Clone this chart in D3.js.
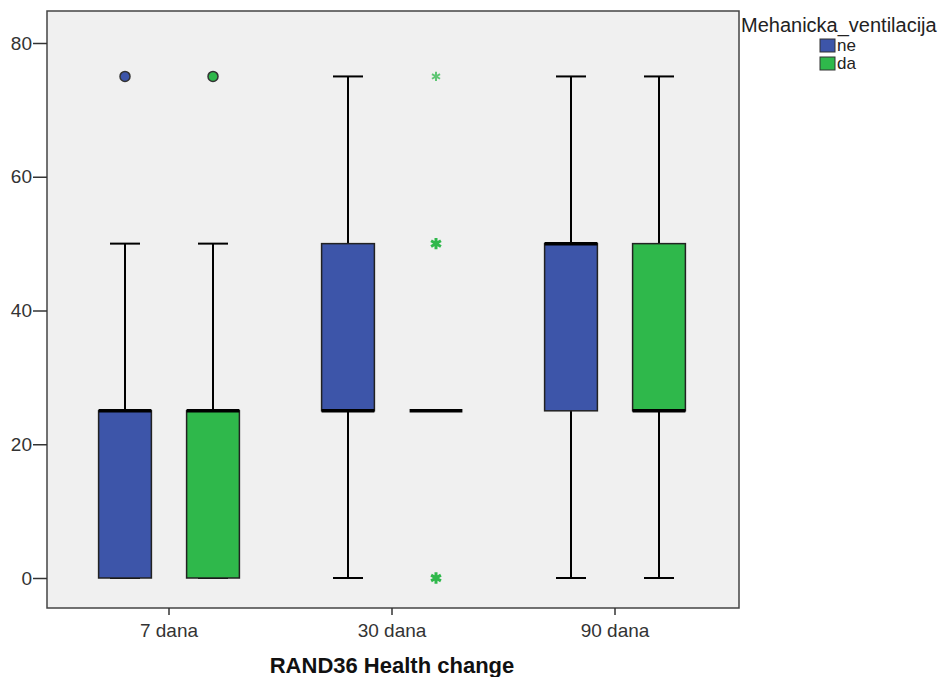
<!DOCTYPE html>
<html>
<head>
<meta charset="utf-8">
<script src="https://cdn.jsdelivr.net/npm/d3@7"></script>
<style>
  body { margin: 0; background: #fff; }
  text { font-family: Arial, "Liberation Sans", sans-serif; }
</style>
</head>
<body>
<svg id="chart" width="941" height="677"></svg>
<script>
// data
const categories = ["7 dana", "30 dana", "90 dana"];
const groups = ["ne", "da"];
const groupColors = ["#3d55a9", "#2fb84b"];
// [min, q1, median, q3, max]
const neStats = [[0, 0, 25, 25, 50], [0, 25, 25, 50, 75], [0, 25, 50, 50, 75]];
const daStats = [[0, 0, 25, 25, 50], [25, 25, 25, 25, 25], [0, 25, 25, 50, 75]];
const neOutliers = [[75], [], []];
const daOutliers = [[75], [], []];
const neExtremes = [[], [], []];
const daExtremes = [[], [75, 50, 0], []];
const yTicks = [0, 20, 40, 60, 80];

let chart = d3.select("#chart");

let yScale = d3.scaleLinear().domain([0, 80]).range([578, 43]);
let xScale = d3.scaleBand().domain(categories).range([57.5, 726.5]);
let gScale = d3.scaleBand().domain(groups).range([-88, 88]).paddingInner(0.4).paddingOuter(0.2);

// plot background
chart.append("rect")
    .attr("x", 47).attr("y", 11)
    .attr("width", 692).attr("height", 597)
    .attr("fill", "#f0f0f0")
    .attr("stroke", "#444").attr("stroke-width", 1.5);

let series = [
  { name: "ne", stats: neStats, out: neOutliers, ext: neExtremes, color: groupColors[0] },
  { name: "da", stats: daStats, out: daOutliers, ext: daExtremes, color: groupColors[1] }
];

let boxW = gScale.bandwidth();
let capW = 30;

series.forEach(function(s) {
  categories.forEach(function(c, i) {
    let st = s.stats[i];
    let cx = xScale(c) + xScale.bandwidth() / 2 + gScale(s.name) + boxW / 2;
    let g = chart.append("g");

    // whiskers
    g.append("line")
        .attr("x1", cx).attr("x2", cx)
        .attr("y1", yScale(st[4])).attr("y2", yScale(st[3]))
        .attr("stroke", "#000").attr("stroke-width", 2);
    g.append("line")
        .attr("x1", cx).attr("x2", cx)
        .attr("y1", yScale(st[1])).attr("y2", yScale(st[0]))
        .attr("stroke", "#000").attr("stroke-width", 2);
    [st[0], st[4]].forEach(function(v) {
      g.append("line")
          .attr("x1", cx - capW / 2).attr("x2", cx + capW / 2)
          .attr("y1", yScale(v)).attr("y2", yScale(v))
          .attr("stroke", "#000").attr("stroke-width", 2);
    });

    // box
    if (st[3] > st[1]) {
      g.append("rect")
          .attr("x", cx - boxW / 2)
          .attr("y", yScale(st[3]))
          .attr("width", boxW)
          .attr("height", yScale(st[1]) - yScale(st[3]))
          .attr("fill", s.color)
          .attr("stroke", "#222").attr("stroke-width", 1.5);
    }

    // median
    g.append("line")
        .attr("x1", cx - boxW / 2).attr("x2", cx + boxW / 2)
        .attr("y1", yScale(st[2])).attr("y2", yScale(st[2]))
        .attr("stroke", "#000").attr("stroke-width", 3.5);

    // outliers (circles)
    s.out[i].forEach(function(v) {
      g.append("circle")
          .attr("cx", cx).attr("cy", yScale(v))
          .attr("r", 5)
          .attr("fill", s.color)
          .attr("stroke", "#333").attr("stroke-width", 1.5);
    });

    // extremes (stars)
    s.ext[i].forEach(function(v, k) {
      g.append("path")
          .attr("d", d3.symbol().type(d3.symbolAsterisk).size(k == 0 ? 60 : 90)())
          .attr("transform", "translate(" + cx + "," + yScale(v) + ")")
          .attr("stroke", s.color)
          .attr("stroke-opacity", k == 0 ? 0.75 : 1)
          .attr("stroke-width", k == 0 ? 2 : 3)
          .attr("fill", "none");
    });
  });
});

// y axis
let yAxis = chart.append("g")
    .attr("transform", "translate(47,0)")
    .call(d3.axisLeft(yScale).tickValues(yTicks).tickSize(14).tickPadding(1));
yAxis.select(".domain").remove();
yAxis.selectAll("line").attr("stroke", "#333").attr("stroke-width", 1.5);
yAxis.selectAll("text").attr("font-size", 19).attr("fill", "#333")
    .attr("font-family", "Arial, 'Liberation Sans', sans-serif");

// x axis
let xAxis = chart.append("g")
    .attr("transform", "translate(0,608)")
    .call(d3.axisBottom(xScale).tickSize(7).tickPadding(9));
xAxis.select(".domain").remove();
xAxis.selectAll("line").attr("stroke", "#333").attr("stroke-width", 1.5);
xAxis.selectAll("text").attr("font-size", 19).attr("fill", "#333")
    .attr("font-family", "Arial, 'Liberation Sans', sans-serif");

chart.append("text")
    .text("RAND36 Health change")
    .attr("x", 392)
    .attr("y", 673)
    .style("text-anchor", "middle")
    .attr("font-size", 22)
    .attr("font-weight", "bold")
    .attr("fill", "#111");

// legend
chart.append("text")
    .text("Mehanicka_ventilacija")
    .attr("x", 741)
    .attr("y", 32)
    .attr("font-size", 20)
    .attr("fill", "#222");

groups.forEach(function(gname, i) {
  chart.append("rect")
      .attr("x", 820).attr("y", 39 + i * 18)
      .attr("width", 15).attr("height", 13)
      .attr("fill", groupColors[i])
      .attr("stroke", "#333").attr("stroke-width", 1);
  chart.append("text")
      .text(gname)
      .attr("x", 837).attr("y", 51 + i * 18)
      .attr("font-size", 17)
      .attr("fill", "#222");
});
</script>
</body>
</html>
